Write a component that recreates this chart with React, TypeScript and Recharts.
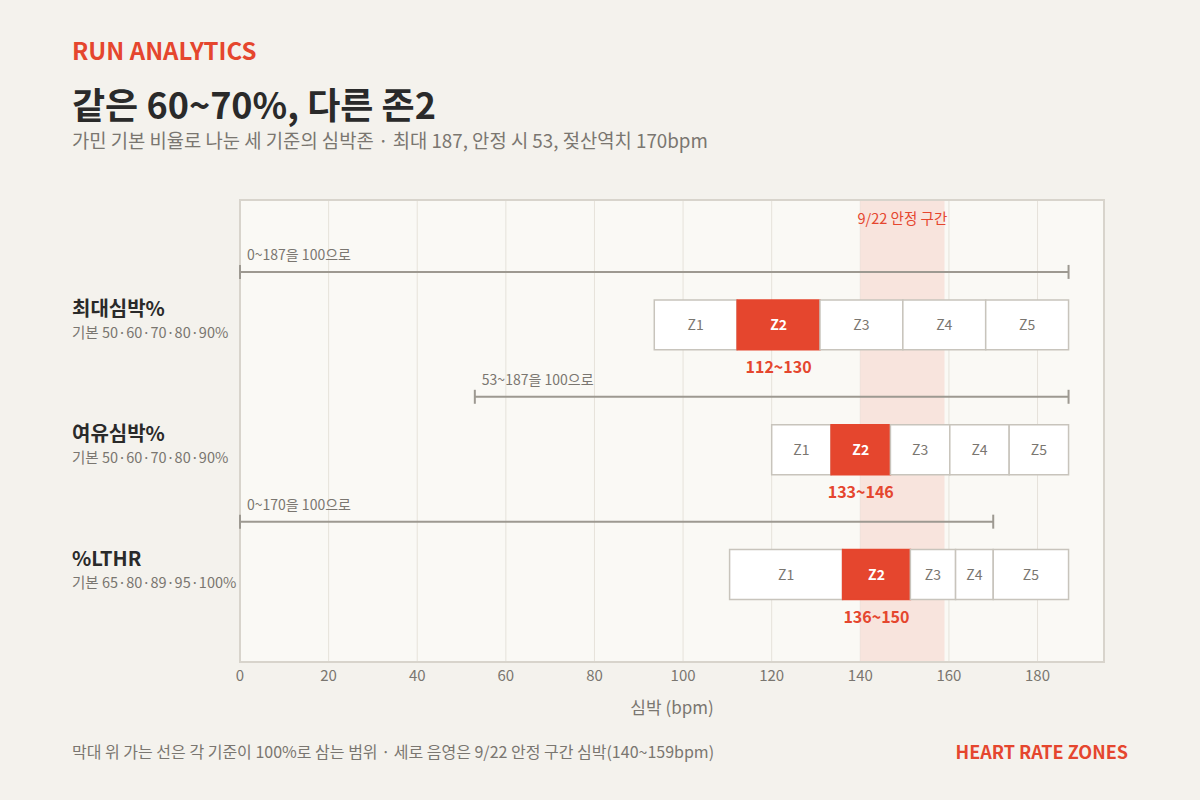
import { ComposedChart, XAxis, YAxis, CartesianGrid, ReferenceArea, ReferenceLine } from 'recharts'

const rowNames = ['최대심박%', '여유심박%', '%LTHR']
const rowBasis = ['기본 50·60·70·80·90%', '기본 50·60·70·80·90%', '기본 65·80·89·95·100%']
const zoneNames = ['Z1', 'Z2', 'Z3', 'Z4', 'Z5']
const maxHrEdges = [93.5, 112.2, 130.9, 149.6, 168.3, 187]
const hrrEdges = [120, 133.4, 146.8, 160.2, 173.6, 187]
const lthrEdges = [110.5, 136, 151.3, 161.5, 170, 187]
const zoneEdges = [maxHrEdges, hrrEdges, lthrEdges]
const rangeStart = [0, 53, 0]
const rangeEnd = [187, 187, 170]
const rangeLabels = ['0~187을 100으로', '53~187을 100으로', '0~170을 100으로']
const z2Labels = ['112~130', '133~146', '136~150']
const steadyBand = [140, 159]
const xTicks = [0, 20, 40, 60, 80, 100, 120, 140, 160, 180]

const RED = '#e5462e'
const INK = '#2a2a2a'
const GRAY = '#7a7670'
const FONT = '"Noto Sans CJK KR", "Noto Sans", sans-serif'

const Y_MIN = -1
const Y_MAX = 2.7

function RowTick(props: any) {
  const i = props.payload.value
  return (
    <g>
      <text x={72} y={props.y - 9} fontSize={20} fontWeight={700} fill={INK} fontFamily={FONT}>
        {rowNames[i]}
      </text>
      <text x={72} y={props.y + 13} fontSize={14.5} fill={GRAY} fontFamily={FONT}>
        {rowBasis[i]}
      </text>
    </g>
  )
}

export default function App() {
  return (
    <div style={{ position: 'absolute', left: 0, top: 0, width: 1200, height: 800, background: '#f4f2ed', fontFamily: FONT }}>
      <div style={{ position: 'absolute', left: 72, top: 35, fontSize: 24, lineHeight: '30px', fontWeight: 700, color: RED }}>
        RUN ANALYTICS
      </div>
      <div style={{ position: 'absolute', left: 72, top: 81, fontSize: 36, lineHeight: '44px', fontWeight: 700, color: INK }}>
        같은 60~70%, 다른 존2
      </div>
      <div style={{ position: 'absolute', left: 72, top: 128, fontSize: 18.8, lineHeight: '24px', color: GRAY }}>
        가민 기본 비율로 나눈 세 기준의 심박존 · 최대 187, 안정 시 53, 젖산역치 170bpm
      </div>

      <div style={{ position: 'absolute', left: 0, top: 0 }}>
        <ComposedChart width={1200} height={800} margin={{ top: 200, right: 96, bottom: 78, left: 72 }}>
          <CartesianGrid horizontal={false} stroke="#e6e2da" fill="#faf9f5" />
          <XAxis
            type="number"
            dataKey="x"
            domain={[0, 195]}
            ticks={xTicks}
            allowDataOverflow
            axisLine={false}
            tickLine={false}
            height={60}
            tick={{ fontSize: 15, fill: GRAY, fontFamily: FONT }}
            label={{ value: '심박 (bpm)', position: 'insideBottom', offset: 8, fontSize: 17, fill: GRAY, fontFamily: FONT }}
          />
          <YAxis
            type="number"
            dataKey="y"
            domain={[Y_MIN, Y_MAX]}
            ticks={[0, 1, 2]}
            reversed
            allowDataOverflow
            axisLine={false}
            tickLine={false}
            width={168}
            tick={<RowTick />}
          />

          <ReferenceArea
            x1={steadyBand[0]}
            x2={steadyBand[1]}
            y1={Y_MIN}
            y2={Y_MAX}
            fill="#f7dfd7"
            fillOpacity={0.8}
            stroke="none"
            label={{ value: '9/22 안정 구간', position: 'insideTop', offset: 14, fontSize: 14.5, fill: RED, fontFamily: FONT }}
          />

          {rangeStart.map((s, i) => (
            <ReferenceLine
              key={`r${i}`}
              segment={[{ x: s, y: i - 0.424 }, { x: rangeEnd[i], y: i - 0.424 }]}
              stroke="#9d9991"
              strokeWidth={2}
              label={(p: any) => (
                <text x={p.viewBox.x + 7} y={p.viewBox.y - 12} fontSize={14} fill={GRAY} fontFamily={FONT}>
                  {rangeLabels[i]}
                </text>
              )}
            />
          ))}
          {rangeStart.map((s, i) =>
            [s, rangeEnd[i]].map((x, k) => (
              <ReferenceLine
                key={`t${i}-${k}`}
                segment={[{ x, y: i - 0.48 }, { x, y: i - 0.368 }]}
                stroke="#9d9991"
                strokeWidth={2}
              />
            ))
          )}

          {zoneEdges.map((edges, i) =>
            zoneNames.map((z, j) => {
              const isZ2 = j === 1
              return (
                <ReferenceArea
                  key={`z${i}-${j}`}
                  x1={edges[j]}
                  x2={edges[j + 1]}
                  y1={i - 0.2}
                  y2={i + 0.2}
                  fill={isZ2 ? RED : '#ffffff'}
                  fillOpacity={1}
                  stroke={isZ2 ? RED : '#c8c4bc'}
                  strokeWidth={1.5}
                  label={(p: any) => {
                    const v = p.viewBox
                    return (
                      <g>
                        <text
                          x={v.x + v.width / 2}
                          y={v.y + v.height / 2 + 5}
                          textAnchor="middle"
                          fontSize={14}
                          fontWeight={isZ2 ? 700 : 400}
                          fill={isZ2 ? '#ffffff' : GRAY}
                          fontFamily={FONT}
                        >
                          {z}
                        </text>
                        {isZ2 && (
                          <text
                            x={v.x + v.width / 2}
                            y={v.y + v.height + 23}
                            textAnchor="middle"
                            fontSize={16}
                            fontWeight={700}
                            fill={RED}
                            fontFamily={FONT}
                          >
                            {z2Labels[i]}
                          </text>
                        )}
                      </g>
                    )
                  }}
                />
              )
            })
          )}

          <ReferenceArea x1={0} x2={195} y1={Y_MIN} y2={Y_MAX} fill="none" stroke="#d8d4cc" strokeWidth={2} />
        </ComposedChart>
      </div>

      <div style={{ position: 'absolute', left: 72, top: 740, fontSize: 16, lineHeight: '22px', color: GRAY }}>
        막대 위 가는 선은 각 기준이 100%로 삼는 범위 · 세로 음영은 9/22 안정 구간 심박(140~159bpm)
      </div>
      <div style={{ position: 'absolute', right: 72, top: 739, fontSize: 18, lineHeight: '24px', fontWeight: 700, color: RED }}>
        HEART RATE ZONES
      </div>
    </div>
  )
}
